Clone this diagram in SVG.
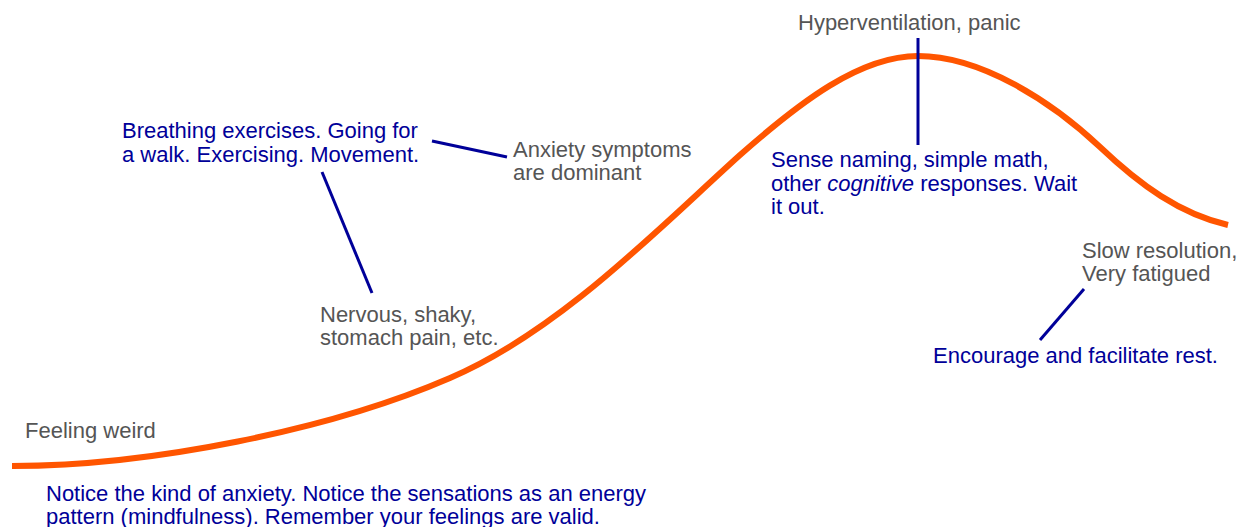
<svg xmlns="http://www.w3.org/2000/svg" width="1239" height="527" viewBox="0 0 1239 527">
  <style>
    text { font-family: "Liberation Sans", Arial, sans-serif; font-size: 22px; }
    .state { fill: #555555; }
    .help { fill: #000099; }
    .link { stroke: #000099; stroke-width: 3; fill: none; }
    .curve { stroke: #ff5500; stroke-width: 6; fill: none; stroke-linecap: butt; }
  </style>
  <rect width="1239" height="527" fill="#ffffff"/>

  <!-- anxiety intensity curve -->
  <g id="curve">
    <path class="curve" d="M12,466 C150,466 330,430 450,378 C560,331 660,227 740,155 C800,102 860,56 918,56 C980,56 1050,100 1100,147 C1140,185 1180,214 1228,225"/>
  </g>

  <g id="connectors">
    <line class="link" x1="432" y1="141" x2="507" y2="157"/>
    <line class="link" x1="322" y1="172" x2="372" y2="293"/>
    <line class="link" x1="918" y1="38" x2="918" y2="145"/>
    <line class="link" x1="1084" y1="289" x2="1040" y2="340"/>
  </g>

  <g id="feeling-weird">
    <text class="state" x="25" y="438">Feeling weird</text>
  </g>
  <g id="notice">
    <text class="help" x="46" y="501">Notice the kind of anxiety. Notice the sensations as an energy</text>
    <text class="help" x="46" y="524">pattern (mindfulness). Remember your feelings are valid.</text>
  </g>
  <g id="breathing">
    <text class="help" x="122" y="138">Breathing exercises. Going for</text>
    <text class="help" x="122" y="162">a walk. Exercising. Movement.</text>
  </g>
  <g id="dominant">
    <text class="state" x="513" y="157">Anxiety symptoms</text>
    <text class="state" x="513" y="180">are dominant</text>
  </g>
  <g id="nervous">
    <text class="state" x="320" y="322">Nervous, shaky,</text>
    <text class="state" x="320" y="345">stomach pain, etc.</text>
  </g>
  <g id="panic">
    <text class="state" x="798" y="30">Hyperventilation, panic</text>
  </g>
  <g id="cognitive">
    <text class="help" x="771" y="167">Sense naming, simple math,</text>
    <text class="help" x="771" y="191">other <tspan font-style="italic">cognitive</tspan> responses. Wait</text>
    <text class="help" x="771" y="214">it out.</text>
  </g>
  <g id="resolution">
    <text class="state" x="1082" y="258">Slow resolution,</text>
    <text class="state" x="1082" y="281">Very fatigued</text>
  </g>
  <g id="rest">
    <text class="help" x="933" y="363">Encourage and facilitate rest.</text>
  </g>
</svg>
